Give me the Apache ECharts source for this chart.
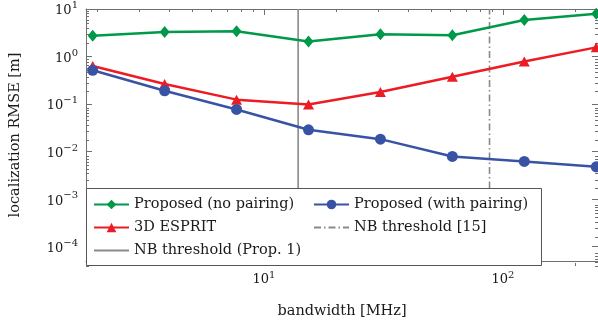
<!DOCTYPE html>
<html><head><meta charset="utf-8">
<script src="https://cdn.jsdelivr.net/npm/echarts@6/dist/echarts.min.js"></script>
<style>html,body{margin:0;padding:0;background:#fff}#c{width:598px;height:324px}</style>
</head><body><div id="c"></div>
<script>
// ---- data ----
const bandwidth = [1.92, 3.84, 7.68, 15.36, 30.72, 61.44, 122.88, 245.76];
const proposedNoPairing = [2.75, 3.28, 3.39, 2.07, 2.94, 2.80, 5.87, 7.96];
const proposedWithPairing = [0.514, 0.19, 0.077, 0.0288, 0.0183, 0.0079, 0.0062, 0.0048];
const esprit3D = [0.63, 0.265, 0.124, 0.098, 0.179, 0.374, 0.79, 1.56];
const nbThresholdProp1 = 13.9;
const nbThreshold15 = 87.9;
const xMinorTicks = [2,3,4,5,6,7,8,9,20,30,40,50,60,70,80,90,200];
const yMinorTicks = [5e-5,6e-5,7e-5,8e-5,9e-5,
  2e-4,3e-4,4e-4,5e-4,6e-4,7e-4,8e-4,9e-4,
  2e-3,3e-3,4e-3,5e-3,6e-3,7e-3,8e-3,9e-3,
  2e-2,3e-2,4e-2,5e-2,6e-2,7e-2,8e-2,9e-2,
  0.2,0.3,0.4,0.5,0.6,0.7,0.8,0.9,
  2,3,4,5,6,7,8,9];
const xRange = [1.8, 250];
const yRange = [5e-5, 10];

// ---- style ----
const FONT = 'DejaVu Serif';
const FS = 14.5;
const TXT = '#1a1a1a';
const AX = '#6f6f6f';
const GREEN = '#00994a', BLUE = '#3953a4', RED = '#ec1c24', GREY = '#8a8a8a';

function powLabel(v) {
  const e = Math.log10(v), r = Math.round(e);
  if (Math.abs(e - r) > 1e-6) return '';
  return '{b|10}{e|' + (r < 0 ? '\u2212' + (-r) : r) + '}';
}
const richX = {
  b: {fontFamily: FONT, fontSize: 13, color: TXT},
  e: {fontFamily: FONT, fontSize: 10, color: TXT, padding: [0, 0, 9, 0]}
};
const richY = {
  b: {fontFamily: FONT, fontSize: 13, color: TXT, padding: [4, 0, 0, 0]},
  e: {fontFamily: FONT, fontSize: 10, color: TXT, padding: [0, 0, 7, 0]}
};

const grid = {left: 86, right: 0, top: 9, bottom: 58};
const lg = v => Math.log10(v);

const chart = echarts.init(document.getElementById('c'), null, {renderer: 'canvas'});
chart.setOption({
  animation: false,
  backgroundColor: '#fff',
  textStyle: {fontFamily: FONT},
  grid: [Object.assign({}, grid), Object.assign({}, grid)],
  xAxis: [
    {type: 'log', gridIndex: 0, position: 'bottom', min: xRange[0], max: xRange[1],
     name: 'bandwidth [MHz]', nameLocation: 'middle', nameGap: 43,
     nameTextStyle: {fontFamily: FONT, fontSize: FS, color: TXT},
     axisLine: {show: true, onZero: false, lineStyle: {color: AX, width: 1}},
     axisTick: {show: true, inside: true, length: 6, lineStyle: {color: AX}},
     axisLabel: {show: true, margin: 9, formatter: powLabel, rich: richX, showMinLabel: false, showMaxLabel: false},
     splitLine: {show: false}, minorTick: {show: false}},
    {type: 'log', gridIndex: 0, position: 'top', min: xRange[0], max: xRange[1],
     axisLine: {show: true, onZero: false, lineStyle: {color: AX, width: 1}},
     axisTick: {show: true, inside: true, length: 6, lineStyle: {color: AX}},
     axisLabel: {show: false}, splitLine: {show: false}},
    {type: 'value', gridIndex: 1, position: 'bottom', min: lg(xRange[0]), max: lg(xRange[1]),
     axisLine: {show: false, onZero: false},
     axisTick: {show: true, inside: true, length: 3, customValues: xMinorTicks.map(lg), lineStyle: {color: AX}},
     axisLabel: {show: false}, splitLine: {show: false}},
    {type: 'value', gridIndex: 1, position: 'top', min: lg(xRange[0]), max: lg(xRange[1]),
     axisLine: {show: false, onZero: false},
     axisTick: {show: true, inside: true, length: 3, customValues: xMinorTicks.map(lg), lineStyle: {color: AX}},
     axisLabel: {show: false}, splitLine: {show: false}}
  ],
  yAxis: [
    {type: 'log', gridIndex: 0, position: 'left', min: yRange[0], max: yRange[1],
     name: 'localization RMSE [m]', nameLocation: 'middle', nameGap: 63,
     nameTextStyle: {fontFamily: FONT, fontSize: FS, color: TXT},
     axisLine: {show: true, onZero: false, lineStyle: {color: AX, width: 1}},
     axisTick: {show: true, inside: true, length: 6, lineStyle: {color: AX}},
     axisLabel: {show: true, margin: 8, formatter: powLabel, rich: richY, showMinLabel: false, showMaxLabel: true},
     splitLine: {show: false}},
    {type: 'log', gridIndex: 0, position: 'right', min: yRange[0], max: yRange[1],
     axisLine: {show: true, onZero: false, lineStyle: {color: AX, width: 1}},
     axisTick: {show: true, inside: true, length: 6, lineStyle: {color: AX}},
     axisLabel: {show: false}, splitLine: {show: false}},
    {type: 'value', gridIndex: 1, position: 'left', min: lg(yRange[0]), max: lg(yRange[1]),
     axisLine: {show: false, onZero: false},
     axisTick: {show: true, inside: true, length: 3, customValues: yMinorTicks.map(lg), lineStyle: {color: AX}},
     axisLabel: {show: false}, splitLine: {show: false}},
    {type: 'value', gridIndex: 1, position: 'right', min: lg(yRange[0]), max: lg(yRange[1]),
     axisLine: {show: false, onZero: false},
     axisTick: {show: true, inside: true, length: 3, customValues: yMinorTicks.map(lg), lineStyle: {color: AX}},
     axisLabel: {show: false}, splitLine: {show: false}}
  ],
  legend: [
    {left: 93, top: 196, z: 20, orient: 'vertical', padding: 0, itemGap: 6, itemWidth: 35, itemHeight: 12,
     data: ['Proposed (no pairing)', '3D ESPRIT', {name: 'NB threshold (Prop. 1)', itemStyle: {opacity: 0}}],
     textStyle: {fontFamily: FONT, fontSize: FS, color: TXT, lineHeight: 17}},
    {left: 313, top: 196, z: 20, orient: 'vertical', padding: 0, itemGap: 6, itemWidth: 35, itemHeight: 12,
     data: ['Proposed (with pairing)', {name: 'NB threshold [15]', itemStyle: {opacity: 0}}],
     textStyle: {fontFamily: FONT, fontSize: FS, color: TXT, lineHeight: 17}}
  ],
  graphic: {
    z: 8,
    elements: [
      {type: 'rect', z: 8, shape: {x: 86.5, y: 188.5, width: 455, height: 77},
       style: {fill: '#fff', stroke: '#555', lineWidth: 1}}
    ]
  },
  series: [
    {name: 'NB threshold (Prop. 1)', type: 'line', z: 1, xAxisIndex: 0, yAxisIndex: 0, symbol: 'none',
     data: [[nbThresholdProp1, yRange[0]], [nbThresholdProp1, yRange[1]]],
     lineStyle: {color: GREY, width: 1.6}, itemStyle: {color: GREY}},
    {name: 'NB threshold [15]', type: 'line', z: 1, xAxisIndex: 0, yAxisIndex: 0, symbol: 'none',
     data: [[nbThreshold15, yRange[0]], [nbThreshold15, yRange[1]]],
     lineStyle: {color: GREY, width: 1.6, type: [7, 3, 1.5, 3]}, itemStyle: {color: GREY}},
    {name: 'Proposed (no pairing)', type: 'line', xAxisIndex: 0, yAxisIndex: 0,
     data: bandwidth.map((x, i) => [x, proposedNoPairing[i]]),
     symbol: 'diamond', symbolSize: [10, 12], clip: false,
     lineStyle: {color: GREEN, width: 2.5}, itemStyle: {color: GREEN}},
    {name: '3D ESPRIT', type: 'line', xAxisIndex: 0, yAxisIndex: 0,
     data: bandwidth.map((x, i) => [x, esprit3D[i]]),
     symbol: 'triangle', symbolSize: [11, 10], clip: false,
     lineStyle: {color: RED, width: 2.5}, itemStyle: {color: RED}},
    {name: 'Proposed (with pairing)', type: 'line', xAxisIndex: 0, yAxisIndex: 0,
     data: bandwidth.map((x, i) => [x, proposedWithPairing[i]]),
     symbol: 'circle', symbolSize: 11, clip: false,
     lineStyle: {color: BLUE, width: 2.5}, itemStyle: {color: BLUE}}
  ]
});
</script></body></html>
